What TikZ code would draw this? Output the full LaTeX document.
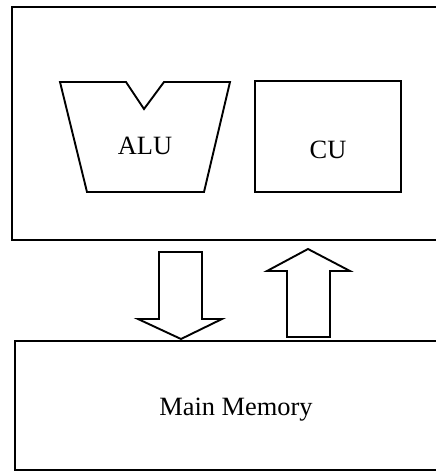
\documentclass[tikz,border=0pt]{standalone}
\usepackage{fontspec}
\setmainfont{Liberation Serif}
\begin{document}
\begin{tikzpicture}[x=1pt,y=-1pt,
  thickbox/.style={draw=black,line width=2.6pt},
  part/.style={draw=black,line width=1.9pt,line join=miter},
  label/.style={font=\fontsize{26.4}{29}\selectfont,anchor=base,inner sep=0pt}]
\useasboundingbox (0,0) rectangle (436,471);
\clip (0,0) rectangle (436,471);

% processor enclosure and main memory (right side runs off the page)
\draw[thickbox] (470,7) -- (12,7) -- (12,240) -- (470,240);
\draw[thickbox] (470,341) -- (15,341) -- (15,470) -- (470,470);

% ALU: trapezoid with a notch in its top edge
\draw[part] (60,82) -- (126,82) -- (144,109) -- (164,82) -- (230,82)
  -- (204,192) -- (87,192) -- cycle;

% control unit
\draw[part] (255,81) rectangle (401,192);

\node[label] (alu) at (145,154) {ALU};
\node[label] (cu) at (328,158) {CU};
\node[label] (mem) at (236,415) {Main Memory};

% block arrows between processor and memory
\draw[part] (159,252) -- (202,252) -- (202,319) -- (222,319) -- (181,339)
  -- (138,319) -- (159,319) -- cycle;
\draw[part] (287,337) -- (330,337) -- (330,271) -- (350,271) -- (308,249)
  -- (267,271) -- (287,271) -- cycle;
\end{tikzpicture}
\end{document}
